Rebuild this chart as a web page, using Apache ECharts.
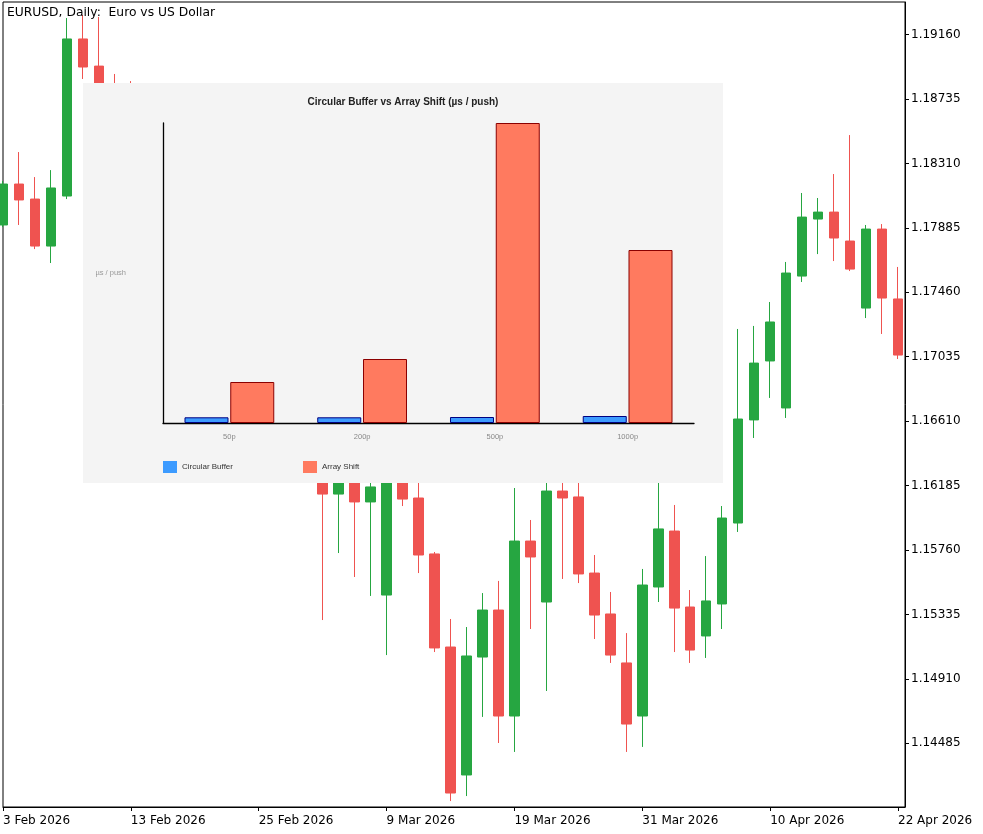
<!DOCTYPE html>
<html>
<head>
<meta charset="utf-8">
<script src="https://cdn.jsdelivr.net/npm/echarts@6/dist/echarts.min.js"></script>
<style>
html,body{margin:0;padding:0;background:#fff;}
#main{width:983px;height:834px;}
</style>
</head>
<body>
<div id="main"></div>
<script>
// ---- Candlestick data (EURUSD daily) ----
const dates = ['3 Feb 2026','4 Feb 2026','5 Feb 2026','6 Feb 2026','9 Feb 2026','10 Feb 2026','11 Feb 2026','12 Feb 2026','13 Feb 2026',
 '16 Feb 2026','17 Feb 2026','18 Feb 2026','19 Feb 2026','20 Feb 2026','23 Feb 2026','24 Feb 2026','25 Feb 2026','26 Feb 2026','27 Feb 2026',
 '2 Mar 2026','3 Mar 2026','4 Mar 2026','5 Mar 2026','6 Mar 2026','9 Mar 2026','10 Mar 2026','11 Mar 2026','12 Mar 2026','13 Mar 2026',
 '16 Mar 2026','17 Mar 2026','18 Mar 2026','19 Mar 2026','20 Mar 2026','23 Mar 2026','24 Mar 2026','25 Mar 2026','26 Mar 2026','27 Mar 2026',
 '30 Mar 2026','31 Mar 2026','1 Apr 2026','2 Apr 2026','3 Apr 2026','6 Apr 2026','7 Apr 2026','8 Apr 2026','9 Apr 2026','10 Apr 2026',
 '13 Apr 2026','14 Apr 2026','15 Apr 2026','16 Apr 2026','17 Apr 2026','20 Apr 2026','21 Apr 2026','22 Apr 2026'];

const opens = [1.17904,1.18174,1.18075,1.17765,1.18095,1.19131,1.18952,1.18728,1.18583,1.18332,1.18517,1.18214,1.18029,1.18148,1.17871,1.17660,1.17805,1.17475,1.17178,1.17145,1.16749,1.16129,1.16301,1.16077,1.15463,1.16341,1.16103,1.15734,1.15120,1.14276,1.15054,1.15364,1.14665,1.15819,1.15417,1.16149,1.16110,1.15608,1.15338,1.15015,1.14665,1.15516,1.15885,1.15384,1.15193,1.15404,1.15938,1.16618,1.17007,1.16697,1.17567,1.17943,1.17989,1.17798,1.17356,1.17877,1.17416];
const closes = [1.18174,1.18069,1.17765,1.18148,1.19131,1.18946,1.18728,1.18583,1.18412,1.18517,1.18214,1.18029,1.18148,1.17831,1.17660,1.17805,1.17475,1.17178,1.17290,1.16749,1.16129,1.16301,1.16077,1.16176,1.16341,1.16096,1.15727,1.15114,1.14157,1.15061,1.15364,1.14665,1.15819,1.15714,1.16149,1.16103,1.15602,1.15331,1.15067,1.14612,1.15529,1.15899,1.15377,1.15100,1.15424,1.15971,1.16624,1.16993,1.17264,1.17587,1.17956,1.17989,1.17818,1.17613,1.17877,1.17422,1.17046];
const lows = [1.17890,1.17904,1.17745,1.17653,1.18075,1.18867,1.18675,1.18530,1.18359,1.18280,1.18161,1.17937,1.17976,1.17778,1.17541,1.17607,1.17409,1.17079,1.17112,1.16618,1.15298,1.15740,1.15582,1.15457,1.15067,1.16050,1.15608,1.15087,1.14104,1.14137,1.14659,1.14487,1.14428,1.15239,1.14830,1.15569,1.15542,1.15173,1.15015,1.14428,1.14461,1.15417,1.15087,1.15015,1.15048,1.15239,1.15879,1.16499,1.16763,1.16631,1.17528,1.17712,1.17666,1.17600,1.17290,1.17185,1.17020];
const highs = [1.18194,1.18385,1.18220,1.18266,1.19269,1.19289,1.19276,1.18900,1.18853,1.18570,1.18557,1.18266,1.18200,1.18187,1.17923,1.17857,1.17831,1.17541,1.17376,1.17211,1.16802,1.16387,1.16354,1.16248,1.16420,1.16406,1.16235,1.15747,1.15305,1.15252,1.15476,1.15556,1.16169,1.15958,1.16288,1.16255,1.16235,1.15727,1.15483,1.15212,1.15635,1.16288,1.16057,1.15496,1.15720,1.16050,1.17218,1.17238,1.17396,1.17660,1.18115,1.18082,1.18240,1.18497,1.17904,1.17910,1.17627];

const priceTicks = [1.14485,1.14910,1.15335,1.15760,1.16185,1.16610,1.17035,1.17460,1.17885,1.18310,1.18735,1.19160];
const dateTickIdx = [0,8,16,24,32,40,48,56];

// ---- Inset bar chart data ----
const barCats = ['50p','200p','500p','1000p'];
const circularBuffer = [0.057,0.057,0.06,0.07];
const arrayShift = [0.41,0.64,3.0,1.73];

const candleData = opens.map((o,i)=>[i,o,closes[i],lows[i],highs[i]]);

const chart = echarts.init(document.getElementById('main'), null, {renderer:'canvas'});
const mainFont = 'DejaVu Sans';
const insetFont = 'Liberation Sans';

const option = {
  animation:false,
  backgroundColor:'#fff',
  title:[
    {text:'EURUSD, Daily:  Euro vs US Dollar', left:7, top:7, padding:0,
     textStyle:{fontFamily:mainFont,fontSize:12.3,fontWeight:'normal',color:'#000'}, z:30},
    {text:'Circular Buffer vs Array Shift (µs / push)', left:403, top:97, textAlign:'center', padding:0,
     textStyle:{fontFamily:insetFont,fontSize:10,fontWeight:'bold',color:'#222'}, z:30}
  ],
  legend:{
    data:['Circular Buffer','Array Shift'], left:163, top:461, padding:0,
    itemWidth:14, itemHeight:12, itemGap:70, icon:'rect',
    itemStyle:{borderWidth:0},
    textStyle:{fontFamily:insetFont,fontSize:8,color:'#333'}, z:30
  },
  graphic:[
    {type:'rect', shape:{x:83,y:83,width:640,height:400}, style:{fill:'#f4f4f4'}, z:10, silent:true}
  ],
  grid:[
    {left:2, top:2, right:78, bottom:27, show:true, borderColor:'#000', borderWidth:1, backgroundColor:'#fff'},
    {left:163, top:123, width:531, height:300}
  ],
  xAxis:[
    {gridIndex:0, type:'value', min:0, max:903/16,
     axisLine:{show:true,onZero:false,lineStyle:{color:'#000',width:1}},
     axisTick:{show:true,length:4,customValues:dateTickIdx,lineStyle:{color:'#000'}},
     axisLabel:{customValues:dateTickIdx, formatter:v=>dates[Math.round(v)]||'', align:'left',
       color:'#000', fontFamily:mainFont, fontSize:12, margin:8},
     splitLine:{show:false}},
    {gridIndex:1, type:'category', data:barCats, z:20,
     axisLine:{show:true,onZero:false,lineStyle:{color:'#000',width:1.3}},
     axisTick:{show:false},
     axisLabel:{color:'#888',fontFamily:insetFont,fontSize:7.5,margin:10},
     splitLine:{show:false}}
  ],
  yAxis:[
    {gridIndex:0, type:'value', position:'right', min:1.140648, max:1.193748,
     axisLine:{show:true,onZero:false,lineStyle:{color:'#000',width:1}},
     axisTick:{show:true,length:4,customValues:priceTicks,lineStyle:{color:'#000'}},
     axisLabel:{customValues:priceTicks, formatter:v=>Number(v).toFixed(5), color:'#000',
       fontFamily:mainFont, fontSize:12, margin:6, padding:[3,0,0,0]},
     splitLine:{show:false}},
    {gridIndex:1, type:'value', min:0, max:3.0, z:20,
     name:'µs / push', nameLocation:'middle', nameRotate:0, nameGap:37,
     nameTextStyle:{color:'#999',fontFamily:insetFont,fontSize:7.5},
     axisLine:{show:true,onZero:false,lineStyle:{color:'#000',width:1.3}},
     axisTick:{show:false}, axisLabel:{show:false}, splitLine:{show:false}}
  ],
  series:[
    {type:'candlestick', xAxisIndex:0, yAxisIndex:0, data:candleData, barWidth:10, clip:true, z:2,
     itemStyle:{color:'#26a641', color0:'#ef5350', borderColor:'#26a641', borderColor0:'#ef5350', borderWidth:1}},
    {type:'bar', name:'Circular Buffer', xAxisIndex:1, yAxisIndex:1, data:circularBuffer,
     barWidth:44, barGap:'4%', z:20,
     itemStyle:{color:'#3d9bff', borderColor:'#000080', borderWidth:1}},
    {type:'bar', name:'Array Shift', xAxisIndex:1, yAxisIndex:1, data:arrayShift,
     barWidth:44, barGap:'4%', z:20,
     itemStyle:{color:'#ff7a5f', borderColor:'#8b0000', borderWidth:1}}
  ]
};
chart.setOption(option);
</script>
</body>
</html>
